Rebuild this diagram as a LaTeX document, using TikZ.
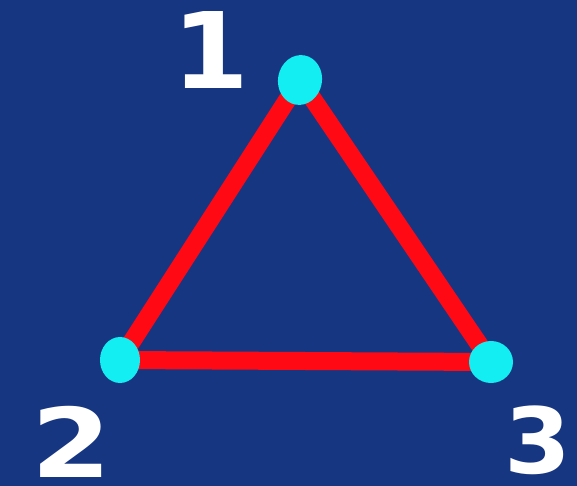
\documentclass[tikz,border=0pt]{standalone}
\usepackage{fontspec}
\setmainfont{DejaVu Sans}
\usetikzlibrary{shapes.geometric}
\definecolor{bgBlue}{HTML}{173682}
\definecolor{edgeRed}{HTML}{FF0A14}
\definecolor{dotCyan}{HTML}{12EEF2}

\begin{document}
\begin{tikzpicture}[x=1pt,y=-1pt,
    edge/.style={draw=edgeRed,line width=18pt,line join=round},
    dot/.style={ellipse,fill=dotCyan,inner sep=0pt},
    num/.style={text=white,font=\fontsize{96}{96}\selectfont\bfseries,inner sep=0pt}]
    \useasboundingbox[fill=bgBlue] (0,0) rectangle (577,486);
    \coordinate (p1) at (300,80);
    \coordinate (p2) at (120,360);
    \coordinate (p3) at (491,362);
    \draw[edge] (p1) -- (p2) -- (p3) -- cycle;
    \node[dot,minimum width=44pt,minimum height=50pt,rotate=-10] (v1) at (p1) {};
    \node[dot,minimum width=40pt,minimum height=46pt] (v2) at (p2) {};
    \node[dot,minimum width=44pt,minimum height=42pt] (v3) at (p3) {};
    \node[num,xscale=1.15,yscale=1.1] (n1) at (211,50) {1};
    \node[num,xscale=1.2] (n2) at (72,442) {2};
    \node[num,yscale=0.95] (n3) at (538,440) {3};
  \end{tikzpicture}
\end{document}
